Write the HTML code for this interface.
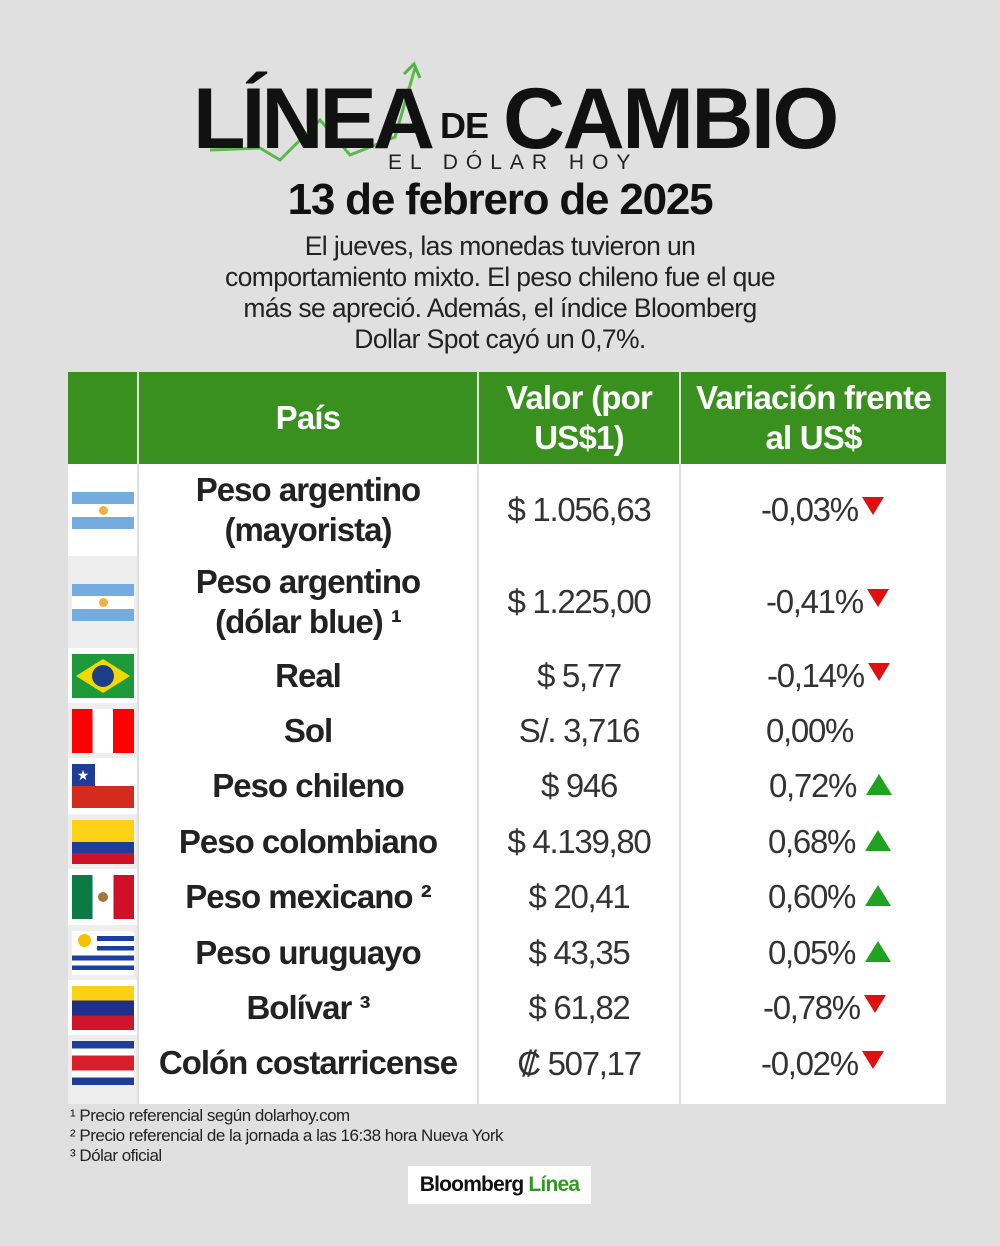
<!DOCTYPE html>
<html><head><meta charset="utf-8"><style>
*{margin:0;padding:0;box-sizing:border-box}
body{width:1000px;height:1246px;background:#e0e0e0;font-family:"Liberation Sans",sans-serif;position:relative;overflow:hidden;color:#222}
.abs{position:absolute}
.t1{font-weight:bold;color:#111;letter-spacing:-4px;line-height:1}
.para{left:0;width:1000px;top:231px;text-align:center;font-size:26.5px;line-height:31px;letter-spacing:-0.6px;color:#222}
table{position:absolute;left:68px;top:372px;width:878px;border-collapse:collapse}
td{border-left:2px solid #e0e0e0;text-align:center;vertical-align:middle;padding:0}
td:first-child{border-left:none}
thead td{background:#39901f;color:#fff;font-weight:bold;font-size:33px;letter-spacing:-0.8px;height:92px;line-height:40px}
tbody td{background:#fff}
.f{width:70px}
.f.g{background:#eee}
.n{font-weight:bold;font-size:33px;letter-spacing:-1px;line-height:40px;color:#222}
.v{font-size:33px;letter-spacing:-1.3px;color:#333}
.var{font-size:33px;letter-spacing:-1.3px;color:#333;text-align:left;padding-left:80px}
.up{display:inline-block;width:0;height:0;border-left:13px solid transparent;border-right:13px solid transparent;border-bottom:21px solid #1fa31f;margin-left:10px;vertical-align:2px}
.dn{display:inline-block;width:0;height:0;border-left:11px solid transparent;border-right:11px solid transparent;border-top:18px solid #e01010;margin-left:4px;vertical-align:6px}
.flag{width:62px;height:44px;margin:0 auto;position:relative;overflow:hidden}
.note{left:70px;font-size:17px;letter-spacing:-0.5px;color:#222}
</style></head><body>
<svg class="abs" style="left:0;top:0" width="1000" height="200">
<polyline points="210,150 260,148 280,160 320,120 350,155 395,137 415,68" fill="none" stroke="#4cb53a" stroke-width="3" opacity=".9"/>
<polyline points="404,74 414,64 420,78" fill="none" stroke="#4cb53a" stroke-width="3"/>
</svg>
<div class="abs t1" style="left:193px;top:76px;font-size:86px">LÍNEA</div>
<div class="abs t1" style="left:440px;top:108px;font-size:36px;letter-spacing:-1px">DE</div>
<div class="abs t1" style="left:503px;top:76px;font-size:86px;letter-spacing:-2.5px">CAMBIO</div>
<div class="abs" style="left:388px;top:151px;font-size:21px;letter-spacing:8px;color:#222">EL DÓLAR HOY</div>
<div class="abs t1" style="left:0;width:1000px;text-align:center;top:178px;font-size:44px;letter-spacing:-1.2px">13 de febrero de 2025</div>
<div class="abs para">El jueves, las monedas tuvieron un<br>comportamiento mixto. El peso chileno fue el que<br>más se apreció. Además, el índice Bloomberg<br>Dollar Spot cayó un 0,7%.</div>
<table>
<thead><tr><td class="f"></td><td style="width:340px">País</td><td style="width:202px">Valor (por<br>US$1)</td><td>Variación frente<br>al US$</td></tr></thead>
<tbody>
<tr style="height:92px"><td class="f"><div class="flag" style="height:37px;background:linear-gradient(#74acdf 33%,#fff 33%,#fff 67%,#74acdf 67%)"><div class="abs" style="left:27px;top:14px;width:9px;height:9px;border-radius:50%;background:#f0b040"></div></div></td><td class="n">Peso argentino<br>(mayorista)</td><td class="v">$ 1.056,63</td><td class="var" style="padding-left:80px">-0,03%<span class="dn"></span></td></tr>
<tr style="height:92px"><td class="f g"><div class="flag" style="height:37px;background:linear-gradient(#74acdf 33%,#fff 33%,#fff 67%,#74acdf 67%)"><div class="abs" style="left:27px;top:14px;width:9px;height:9px;border-radius:50%;background:#f0b040"></div></div></td><td class="n">Peso argentino<br>(dólar blue) ¹</td><td class="v">$ 1.225,00</td><td class="var" style="padding-left:85px">-0,41%<span class="dn"></span></td></tr>
<tr style="height:55px"><td class="f"><div class="flag" style="background:#1f9a3a"><svg width="62" height="44"><polygon points="31,5 58,22 31,39 4,22" fill="#f5d800"/><circle cx="31" cy="22" r="11" fill="#1d3f8a"/></svg></div></td><td class="n">Real</td><td class="v">$ 5,77</td><td class="var" style="padding-left:86px">-0,14%<span class="dn"></span></td></tr>
<tr style="height:55px"><td class="f g"><div class="flag" style="background:linear-gradient(90deg,#f00 33%,#fff 33%,#fff 66%,#f00 66%)"></div></td><td class="n">Sol</td><td class="v">S/. 3,716</td><td class="var" style="padding-left:85px">0,00%</td></tr>
<tr style="height:56px"><td class="f"><div class="flag" style="background:linear-gradient(#fff 50%,#d52b1e 50%)"><div class="abs" style="left:0;top:0;width:23px;height:22px;background:#1f3c99;color:#fff;font-size:14px;text-align:center;line-height:22px">★</div></div></td><td class="n">Peso chileno</td><td class="v">$ 946</td><td class="var" style="padding-left:88px">0,72%<span class="up"></span></td></tr>
<tr style="height:55px"><td class="f g"><div class="flag" style="background:linear-gradient(#fcd116 50%,#1f3c99 50%,#1f3c99 75%,#ce1126 75%)"></div></td><td class="n">Peso colombiano</td><td class="v">$ 4.139,80</td><td class="var" style="padding-left:87px">0,68%<span class="up"></span></td></tr>
<tr style="height:56px"><td class="f"><div class="flag" style="background:linear-gradient(90deg,#0b7a45 33%,#fff 33%,#fff 67%,#ce1126 67%)"><div class="abs" style="left:26px;top:17px;width:10px;height:10px;border-radius:50%;background:#9b7b3a"></div></div></td><td class="n">Peso mexicano ²</td><td class="v">$ 20,41</td><td class="var" style="padding-left:87px">0,60%<span class="up"></span></td></tr>
<tr style="height:55px"><td class="f g"><div class="flag" style="background:repeating-linear-gradient(#fff 0 5px,#1a3fa0 5px 9.8px)"><div class="abs" style="left:0;top:0;width:25px;height:20px;background:#fff"><div style="margin:3px 6px;width:13px;height:13px;border-radius:50%;background:#f5c000"></div></div></div></td><td class="n">Peso uruguayo</td><td class="v">$ 43,35</td><td class="var" style="padding-left:87px">0,05%<span class="up"></span></td></tr>
<tr style="height:55px"><td class="f"><div class="flag" style="background:linear-gradient(#fcd116 33%,#1f2f8a 33%,#1f2f8a 67%,#cf142b 67%)"></div></td><td class="n">Bolívar ³</td><td class="v">$ 61,82</td><td class="var" style="padding-left:82px">-0,78%<span class="dn"></span></td></tr>
<tr style="height:69px"><td class="f g" style="vertical-align:top;padding-top:6px"><div class="flag" style="background:linear-gradient(#1f3c99 17%,#fff 17%,#fff 33%,#d81e2a 33%,#d81e2a 67%,#fff 67%,#fff 83%,#1f3c99 83%)"></div></td><td class="n" style="vertical-align:top;padding-top:8px">Colón costarricense</td><td class="v" style="vertical-align:top;padding-top:10px">₡ 507,17</td><td class="var" style="vertical-align:top;padding-top:10px;padding-left:80px">-0,02%<span class="dn"></span></td></tr>
</tbody></table>
<div class="abs note" style="top:1106px">¹ Precio referencial según dolarhoy.com</div>
<div class="abs note" style="top:1126px">² Precio referencial de la jornada a las 16:38 hora Nueva York</div>
<div class="abs note" style="top:1146px">³ Dólar oficial</div>
<div class="abs" style="left:408px;top:1166px;width:183px;height:38px;background:#fff;text-align:center;line-height:38px;font-size:21px;font-weight:bold;letter-spacing:-0.8px;color:#111">Bloomberg <span style="color:#2f9a1f">Línea</span></div>
</body></html>
